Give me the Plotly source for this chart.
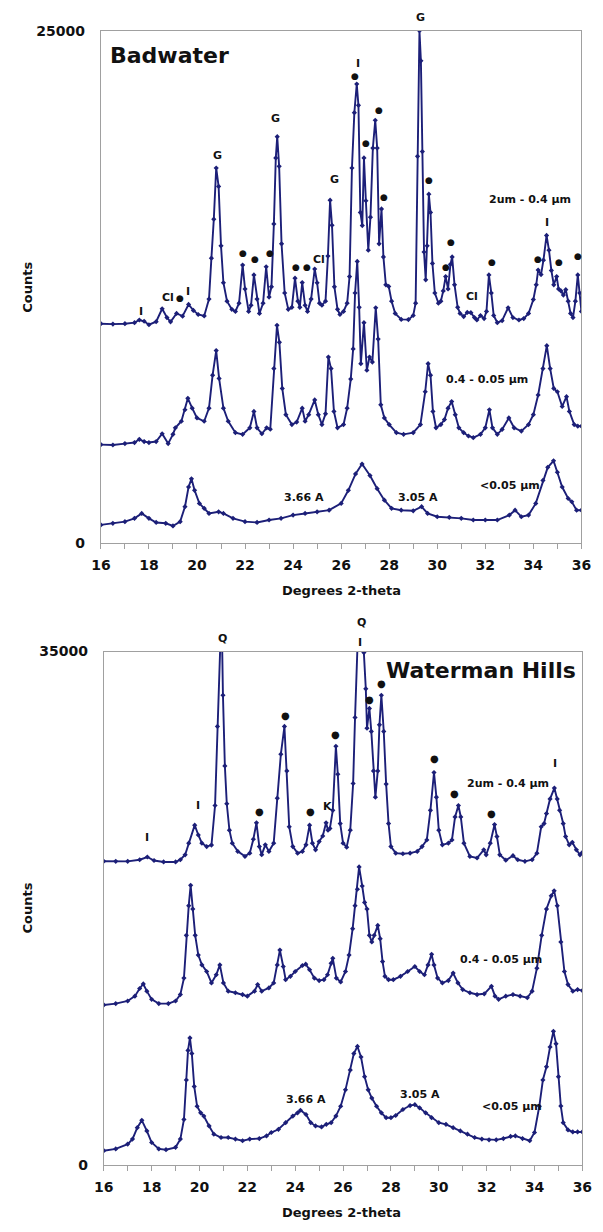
import plotly.graph_objects as go

# ---------------- Badwater data (Degrees 2-theta, Counts) ----------------
bw_coarse_x = [16.0, 16.5, 17.0, 17.4, 17.6, 17.8, 18.0, 18.3, 18.55, 18.75, 18.9, 19.15, 19.4, 19.65, 19.85, 20.05, 20.3, 20.5,
               20.6, 20.7, 20.8, 20.9, 21.0, 21.1, 21.25, 21.45, 21.6, 21.75, 21.9, 22.0, 22.15, 22.25, 22.37, 22.5, 22.6, 22.75,
               22.88, 23.0, 23.1, 23.2, 23.28, 23.34, 23.42, 23.52, 23.65, 23.8, 23.95, 24.08, 24.2, 24.28, 24.38, 24.5, 24.6,
               24.75, 24.9, 25.0, 25.1, 25.2, 25.35, 25.45, 25.54, 25.62, 25.72, 25.85, 25.95, 26.1, 26.25, 26.35, 26.45, 26.55,
               26.65, 26.72, 26.8, 26.88, 26.95, 27.03, 27.13, 27.22, 27.32, 27.42, 27.5, 27.58, 27.68, 27.76, 27.86, 27.98,
               28.1, 28.25, 28.5, 28.8, 29.0, 29.1, 29.18, 29.26, 29.32, 29.38, 29.45, 29.52, 29.58, 29.65, 29.72, 29.8, 29.9,
               30.05, 30.15, 30.25, 30.35, 30.45, 30.55, 30.62, 30.72, 30.85, 30.95, 31.1, 31.25, 31.4, 31.55, 31.65, 31.8,
               31.95, 32.05, 32.15, 32.25, 32.35, 32.5, 32.7, 32.95, 33.15, 33.4, 33.6, 33.8, 34.0, 34.12, 34.2, 34.32, 34.42,
               34.55, 34.65, 34.75, 34.85, 34.97, 35.05, 35.15, 35.25, 35.35, 35.45, 35.55, 35.65, 35.75, 35.85, 35.93, 36.0]
bw_coarse_y = [10700, 10680, 10700, 10750, 10880, 10820, 10650, 10800, 11430, 11000, 10790, 11200, 11070, 11640, 11350, 11150, 11080, 11900,
               13900, 15800, 18300, 17400, 14500, 12700, 11800, 11400, 11300, 11700, 13560, 12400, 11300, 11600, 13080, 11900, 11200, 11700,
               13480, 12000, 12500, 15570, 18790, 19830, 18380, 14600, 12200, 11400, 11500, 12920, 11800, 11500, 12710, 11600, 11300,
               11900, 13370, 12700, 11700, 11600, 11800, 14000, 16730, 15500, 12500, 11400, 11150, 11300, 11700, 13000, 18300, 21000,
               22400, 21360, 16130, 15490, 18790, 16700, 14290, 15900, 19270, 20630, 19270, 14600, 16300, 13960, 12600, 12520,
               11800, 11200, 10910, 10900, 11100, 11700, 18870, 25000, 23530, 19100, 14200, 12840, 14500, 17020, 16130, 13640, 12200,
               11700, 11800, 12300, 13000, 12400, 13600, 13960, 12600, 11500, 11200, 11050, 11250, 11240, 11000, 10880, 11100,
               10950, 11300, 13080, 12200, 11100, 10750, 10850, 11480, 11000, 10880, 10950, 11200, 11880, 12600, 13320, 13100, 13800,
               15010, 14290, 13300, 12600, 13000, 12400, 12300, 12100, 12360, 11800, 11200, 11000, 11800, 13080, 12200, 11300]

bw_mid_x = [16.0, 16.5, 17.0, 17.4, 17.6, 17.8, 18.0, 18.3, 18.55, 18.8, 19.0, 19.1, 19.35, 19.5, 19.62, 19.8, 20.0, 20.3, 20.5,
            20.65, 20.8, 20.92, 21.1, 21.3, 21.6, 21.9, 22.2, 22.37, 22.5, 22.7, 22.9, 23.05, 23.2, 23.33, 23.43, 23.55, 23.7,
            23.95, 24.15, 24.38, 24.5, 24.65, 24.9, 25.05, 25.2, 25.35, 25.47, 25.58, 25.7, 25.85, 26.1, 26.25, 26.4, 26.5,
            26.58, 26.67, 26.75, 26.82, 26.95, 27.07, 27.18, 27.3, 27.44, 27.54, 27.65, 27.8, 28.0, 28.3, 28.6, 29.0, 29.3,
            29.5, 29.62, 29.72, 29.82, 29.95, 30.15, 30.3, 30.45, 30.6, 30.75, 30.9, 31.1, 31.3, 31.5, 31.8, 32.0, 32.17, 32.3,
            32.5, 32.7, 32.98, 33.2, 33.5, 33.8, 34.0, 34.2, 34.4, 34.56, 34.7, 34.85, 35.0, 35.2, 35.38, 35.5, 35.7, 35.85, 36.0]
bw_mid_y = [4800, 4780, 4850, 4900, 5060, 4950, 4900, 4950, 5330, 4850, 5300, 5620, 5940, 6500, 7060, 6580, 6100, 5940, 6580,
            8190, 9390, 8030, 6580, 5940, 5380, 5300, 5620, 6420, 5620, 5330, 5620, 5550, 8510, 10620, 9790, 7540, 6260,
            5780, 5900, 6580, 5940, 6260, 6980, 6260, 5780, 6300, 9070, 8510, 6420, 5620, 5780, 6580, 8000, 9470,
            12200, 13740, 11500, 8750, 10750, 8430, 9070, 8830, 11480, 9950, 6740, 6100, 5780, 5380, 5300, 5380, 5780,
            7380, 8750, 8190, 6420, 5620, 5780, 6020, 6580, 6900, 6260, 5620, 5380, 5220, 5140, 5300, 5620, 6500, 5620,
            5300, 5540, 6100, 5620, 5460, 5780, 6260, 7220, 8510, 9630, 8510, 7540, 7380, 6660, 7140, 6420, 5780, 5700, 5700]

bw_fine_x = [16.0, 16.5, 17.0, 17.4, 17.7, 18.0, 18.3, 18.7, 19.0, 19.3, 19.5, 19.65, 19.77, 19.9, 20.1, 20.3, 20.5, 20.9, 21.1,
             21.5, 22.0, 22.5, 23.0, 23.5, 24.0, 24.5, 25.0, 25.5, 26.0, 26.3, 26.6, 26.87, 27.2, 27.5, 27.8, 28.1, 28.5, 29.0,
             29.35, 29.6, 30.0, 30.5, 31.0, 31.5, 32.0, 32.5, 33.0, 33.24, 33.5, 33.8, 34.1, 34.4, 34.6, 34.84, 35.0, 35.2,
             35.45, 35.6, 35.8, 36.0]
bw_fine_y = [880, 960, 1040, 1200, 1440, 1200, 1000, 960, 830, 1040, 1770, 2730, 3130, 2570, 1930, 1690, 1440, 1520, 1440,
             1200, 1040, 1000, 1120, 1200, 1360, 1440, 1520, 1600, 1930, 2570, 3370, 3850, 3290, 2650, 2090, 1690, 1600, 1570,
             1770, 1440, 1280, 1250, 1200, 1120, 1120, 1120, 1360, 1600, 1280, 1360, 1930, 3050, 3690, 4010, 3450, 2730,
             2170, 2010, 1600, 1600]

# ---------------- Waterman Hills data ----------------
wh_coarse_x = [16.0, 16.5, 17.0, 17.5, 17.82, 18.1, 18.5, 19.0, 19.2, 19.4, 19.55, 19.8, 19.95, 20.1, 20.3, 20.5, 20.65, 20.75,
               20.83, 20.92, 20.98, 21.06, 21.14, 21.25, 21.37, 21.6, 21.9, 22.1, 22.25, 22.38, 22.5, 22.6, 22.75, 22.9, 23.1,
               23.25, 23.4, 23.55, 23.65, 23.75, 23.9, 24.1, 24.3, 24.45, 24.6, 24.72, 24.85, 25.0, 25.15, 25.29, 25.37, 25.45,
               25.57, 25.7, 25.78, 25.88, 26.0, 26.15, 26.3, 26.42, 26.5, 26.58, 26.7, 26.8, 26.87, 26.95, 27.0, 27.1, 27.18,
               27.27, 27.35, 27.45, 27.52, 27.6, 27.7, 27.8, 27.9, 28.0, 28.2, 28.5, 28.8, 29.1, 29.3, 29.5, 29.65, 29.8, 29.9,
               30.0, 30.15, 30.4, 30.55, 30.68, 30.82, 30.92, 31.05, 31.3, 31.6, 31.88, 31.98, 32.15, 32.33, 32.43, 32.55, 32.8,
               33.1, 33.3, 33.6, 33.9, 34.1, 34.28, 34.4, 34.5, 34.65, 34.83, 34.95, 35.05, 35.2, 35.3, 35.45, 35.58, 35.75,
               35.9, 36.0]
wh_coarse_y = [20700, 20690, 20690, 20800, 20990, 20750, 20650, 20650, 20800, 21140, 21930, 23160, 22490, 21930, 21700, 21800, 24500, 29890,
               35500, 38000, 32020, 27200, 24620, 22820, 21930, 21370, 21030, 21250, 22200, 23320, 21700, 21150, 21820, 21370, 21930,
               25000, 28000, 29890, 26860, 23050, 21700, 21250, 21370, 21820, 23160, 21930, 21480, 22040, 22420, 23320, 22820, 22940,
               24170, 28540, 26630, 23270, 21930, 21660, 22820, 26000, 30500, 36000, 40000, 37000, 34930, 32460, 29770, 31120, 29550,
               26860, 25070, 26860, 30000, 32020, 29550, 25960, 23270, 21700, 21250, 21210, 21250, 21370, 21700, 22150, 24170, 26750, 25070,
               22820, 21820, 21930, 22150, 23720, 24500, 23720, 21930, 21030, 20920, 21480, 21140, 21930, 23200, 22380, 21140, 20770,
               21080, 20800, 20690, 20800, 21250, 23050, 23270, 23950, 24950, 25690, 24950, 24170, 23270, 22380, 21820, 21990, 21480,
               21140, 21300]

wh_mid_x = [16.0, 16.5, 17.0, 17.3, 17.5, 17.65, 17.8, 18.0, 18.3, 18.7, 19.0, 19.2, 19.35, 19.45, 19.55, 19.63, 19.72, 19.82,
            19.95, 20.1, 20.3, 20.5, 20.7, 20.85, 21.0, 21.2, 21.5, 21.8, 22.0, 22.3, 22.43, 22.6, 22.9, 23.1, 23.25, 23.36,
            23.5, 23.6, 23.8, 24.0, 24.3, 24.44, 24.6, 24.8, 25.0, 25.2, 25.35, 25.5, 25.57, 25.72, 25.9, 26.1, 26.25, 26.4,
            26.5, 26.6, 26.67, 26.8, 26.9, 27.0, 27.1, 27.2, 27.3, 27.45, 27.55, 27.65, 27.75, 27.9, 28.1, 28.4, 28.7, 29.0,
            29.2, 29.4, 29.55, 29.7, 29.8, 29.95, 30.15, 30.4, 30.6, 30.8, 31.0, 31.3, 31.6, 31.9, 32.2, 32.35, 32.5, 32.8,
            33.1, 33.4, 33.7, 33.9, 34.1, 34.3, 34.5, 34.7, 34.82, 34.95, 35.1, 35.25, 35.4, 35.6, 35.8, 36.0]
wh_mid_y = [10900, 10990, 11170, 11500, 12020, 12330, 11840, 11280, 10990, 10990, 11170, 11610, 12730, 15650, 17670, 19060, 17440, 15650,
            14300, 13630, 13180, 12400, 12960, 13630, 12400, 11840, 11730, 11610, 11500, 11840, 12290, 11840, 12060, 12400, 13630, 14640,
            13520, 12620, 12850, 13180, 13590, 13680, 13300, 12730, 12560, 12620, 12960, 13740, 14080, 12730, 12470, 13180, 14300, 16100,
            17670, 18790, 20310, 19010, 17890, 17440, 15650, 15200, 15650, 16320, 15420, 13860, 12850, 12620, 12620, 12850, 13180, 13520,
            13180, 12960, 13630, 14350, 13630, 12730, 12400, 12560, 13070, 12400, 11950, 11730, 11610, 11660, 12170, 11500, 11280, 11500,
            11610, 11500, 11390, 11840, 13410, 15650, 17440, 18340, 18680, 17670, 15200, 13180, 12290, 11840, 11950, 11880]

wh_fine_x = [16.0, 16.5, 17.0, 17.2, 17.4, 17.59, 17.8, 18.0, 18.3, 18.6, 19.0, 19.2, 19.35, 19.45, 19.52, 19.6, 19.68, 19.78,
             19.9, 20.05, 20.18, 20.4, 20.6, 20.9, 21.2, 21.5, 21.8, 22.1, 22.5, 22.8, 23.0, 23.3, 23.6, 23.9, 24.1, 24.22,
             24.45, 24.65, 24.85, 25.1, 25.3, 25.5, 25.7, 25.9, 26.1, 26.3, 26.45, 26.6, 26.75, 26.9, 27.05, 27.2, 27.4, 27.6,
             27.8, 28.0, 28.2, 28.5, 28.8, 29.0, 29.2, 29.45, 29.7, 30.0, 30.3, 30.6, 30.9, 31.2, 31.5, 31.8, 32.1, 32.4, 32.7,
             33.0, 33.2, 33.5, 33.8, 34.0, 34.2, 34.35, 34.5, 34.65, 34.79, 34.9, 35.0, 35.1, 35.2, 35.4, 35.6, 35.8, 36.0]
wh_fine_y = [960, 1080, 1410, 1750, 2530, 3030, 2310, 1520, 1080, 1030, 1190, 1750, 3090, 5780, 7800, 8650, 7580, 5340,
             3990, 3540, 3320, 2650, 2090, 1860, 1860, 1750, 1640, 1750, 1790, 1970, 2200, 2420, 2870, 3320, 3540, 3720,
             3430, 2870, 2650, 2580, 2760, 2870, 3320, 3990, 5110, 6460, 7580, 8070, 7350, 6010, 5110, 4550, 3990, 3540,
             3210, 3210, 3360, 3770, 4040, 4100, 3880, 3540, 3210, 2870, 2760, 2530, 2310, 2090, 1860, 1750, 1700, 1700, 1790,
             1930, 1970, 1790, 1640, 2200, 3990, 5780, 6680, 8030, 9100, 8250, 6010, 4000, 2870, 2380, 2240, 2240, 2240]

# axis ranges and x tick labels
BW_TOP, WH_TOP = 25000, 35000
x_ticks = list(range(16, 37))
x_ticktext = [str(v) if v % 2 == 0 else "" for v in x_ticks]

# Peak labels: (text, 2-theta, counts)
bw_labels = [
    ("G", 20.85, 18900), ("G", 23.28, 20710), ("G", 25.74, 17730), ("G", 29.29, 25650),
    ("I", 26.72, 23410), ("●", 26.58, 22780), ("●", 27.56, 21150), ("●", 27.05, 19510),
    ("●", 27.79, 16860), ("●", 29.66, 17730), ("●", 21.92, 14160), ("●", 22.43, 13870),
    ("●", 23.04, 14160), ("●", 24.11, 13490), ("●", 24.58, 13490), ("Cl", 25.09, 13820),
    ("●", 30.59, 14690), ("●", 30.36, 13490), ("●", 32.27, 13730), ("●", 34.18, 13870),
    ("●", 35.07, 13730), ("●", 35.86, 14020), ("I", 34.55, 15660), ("I", 17.68, 11320),
    ("Cl", 18.80, 11990), ("●", 19.31, 11950), ("I", 19.64, 12280), ("Cl", 31.43, 12040),
]
bw_series_labels = [("2um - 0.4 µm", 33.86, 16760), ("0.4 - 0.05 µm", 32.08, 8000),
                    ("3.66 A", 24.44, 2215), ("3.05 A", 29.19, 2215), ("<0.05 µm", 33.02, 2790)]

wh_labels = [
    ("Q", 20.98, 35880), ("Q", 26.79, 36950), ("I", 26.70, 35650),
    ("●", 27.60, 32800), ("●", 27.10, 31730), ("●", 23.58, 30670), ("●", 25.67, 29330),
    ("●", 29.81, 27690), ("I", 34.86, 27350), ("●", 30.67, 25290), ("●", 32.19, 23940),
    ("I", 19.92, 24510), ("●", 22.49, 24100), ("●", 24.64, 24100), ("K", 25.34, 24440),
    ("I", 17.82, 22330),
]
wh_series_labels = [("2um - 0.4 µm", 32.89, 26030), ("0.4 - 0.05 µm", 32.58, 13970),
                    ("3.66 A", 24.44, 4440), ("3.05 A", 29.23, 4820), ("<0.05 µm", 33.05, 4000)]

W, H = 603, 1232
LINE = "#1c1f78"
AX = "#a0a0a0"
TXT = "#111111"
FONT = "DejaVu Sans, Verdana, sans-serif"

fig = go.Figure()


def add_series(xs, ys, xa, ya):
    fig.add_trace(go.Scatter(
        x=xs, y=ys, xaxis=xa, yaxis=ya, mode="lines+markers",
        line=dict(color=LINE, width=1.9),
        marker=dict(color=LINE, size=4, symbol="diamond"),
        showlegend=False, hoverinfo="skip", cliponaxis=True))


for xs, ys in [(bw_coarse_x, bw_coarse_y), (bw_mid_x, bw_mid_y), (bw_fine_x, bw_fine_y)]:
    add_series(xs, ys, "x", "y")
for xs, ys in [(wh_coarse_x, wh_coarse_y), (wh_mid_x, wh_mid_y), (wh_fine_x, wh_fine_y)]:
    add_series(xs, ys, "x2", "y2")

# pixel-derived domains
top_dom_x = [94 / W, 591 / W]
top_dom_y = [1 - 542 / H, 1 - 23 / H]
bot_dom_x = [97 / W, 592 / W]
bot_dom_y = [1 - 1172 / H, 1 - 652 / H]


def xaxis(dom, anchor):
    return dict(domain=dom, anchor=anchor, range=[16, 36], tickvals=x_ticks, ticktext=x_ticktext,
                ticks="outside", ticklen=5, tickcolor=AX, tickwidth=1,
                showline=True, linecolor=AX, linewidth=1, mirror=True,
                showgrid=False, zeroline=False, ticklabelstandoff=4,
                tickfont=dict(family=FONT, size=14, color=TXT, weight="bold"))


def yaxis(dom, anchor, top):
    return dict(domain=dom, anchor=anchor, range=[0, top], tickvals=[0, top],
                ticktext=["0", str(top)], ticks="",
                showline=True, linecolor=AX, linewidth=1, mirror=True,
                showgrid=False, zeroline=False, ticklabelstandoff=12,
                tickfont=dict(family=FONT, size=14, color=TXT, weight="bold"))


annotations = []


def lab(text, x, y, xref, top, size=11):
    # y given in counts; placed in axis-domain units so labels above the range still show
    annotations.append(dict(text=text, x=x, y=y / top, xref=xref, yref=xref.replace("x", "y") + " domain",
                            showarrow=False,
                            font=dict(family=FONT, size=size, color=TXT, weight="bold"),
                            xanchor="center", yanchor="middle"))


for t, x, y in bw_labels:
    lab(t, x, y, "x", BW_TOP, 9 if t == "●" else 11)
for t, x, y in bw_series_labels:
    lab(t, x, y, "x", BW_TOP, 11)
for t, x, y in wh_labels:
    lab(t, x, y, "x2", WH_TOP, 10 if t == "●" else 11)
for t, x, y in wh_series_labels:
    lab(t, x, y, "x2", WH_TOP, 11)

# Titles inside plots
annotations.append(dict(text="Badwater", x=16.3, y=23800, xref="x", yref="y", xanchor="left", yanchor="middle",
                        showarrow=False, font=dict(family=FONT, size=22, color=TXT, weight="bold")))
annotations.append(dict(text="Waterman Hills", x=35.8, y=33740, xref="x2", yref="y2", xanchor="right", yanchor="middle",
                        showarrow=False, font=dict(family=FONT, size=22, color=TXT, weight="bold")))

# Axis titles
for ytitle in [1 - 590 / H, 1 - 1220 / H]:
    annotations.append(dict(text="Degrees 2-theta", x=(top_dom_x[0] + top_dom_x[1]) / 2, y=ytitle,
                            xref="paper", yref="paper", showarrow=False, xanchor="center", yanchor="middle",
                            font=dict(family=FONT, size=13, color=TXT, weight="bold")))
for ymid in [1 - 283 / H, 1 - 912 / H]:
    annotations.append(dict(text="Counts", x=18 / W, y=ymid, xref="paper", yref="paper", showarrow=False,
                            textangle=-90, xanchor="center", yanchor="middle",
                            font=dict(family=FONT, size=13, color=TXT, weight="bold")))

fig.update_layout(
    width=W, height=H, margin=dict(l=0, r=0, t=0, b=0),
    paper_bgcolor="white", plot_bgcolor="white",
    xaxis=xaxis(top_dom_x, "y"), yaxis=yaxis(top_dom_y, "x", BW_TOP),
    xaxis2=xaxis(bot_dom_x, "y2"), yaxis2=yaxis(bot_dom_y, "x2", WH_TOP),
    annotations=annotations,
)

fig.write_html("out.html")
